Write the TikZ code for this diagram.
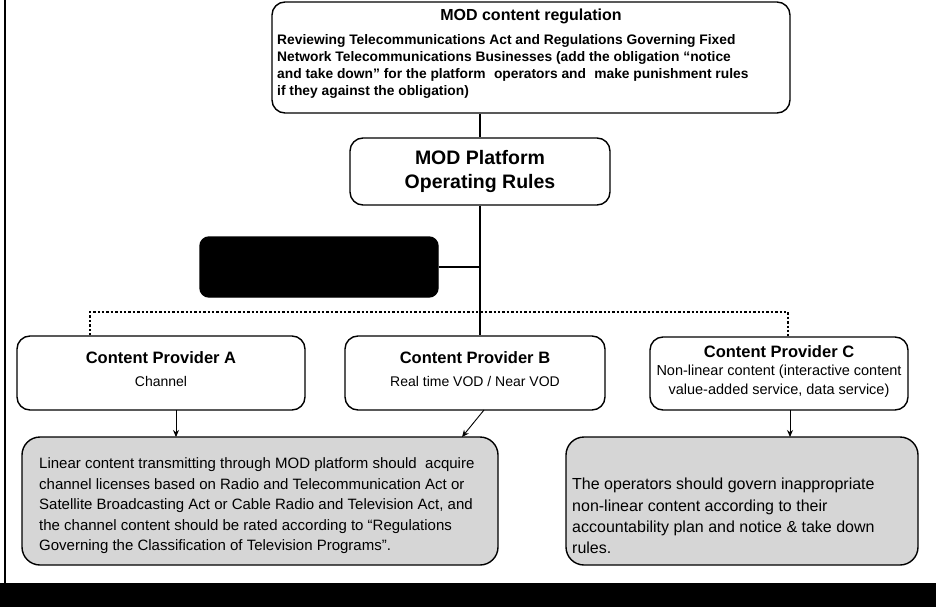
\documentclass[tikz,border=0pt]{standalone}
\usepackage{fontspec}
\setmainfont{Liberation Sans}
\usetikzlibrary{arrows.meta}
\begin{document}
\begin{tikzpicture}[x=1pt,y=-1pt,
  box/.style={draw=black,line width=1.4pt,rounded corners=13pt,fill=white,inner sep=0pt},
  graybox/.style={draw=black,line width=1.4pt,rounded corners=18pt,fill=black!16,inner sep=0pt},
  lbl/.style={inner sep=0pt,font=\bfseries},
  ptitle/.style={inner sep=0pt,font=\bfseries\fontsize{16.5}{19}\selectfont},
  psub/.style={inner sep=0pt,align=center,font=\fontsize{14}{19}\selectfont},
  body/.style={inner sep=0pt,align=left},
  conn/.style={line width=2.4pt},
  arr/.style={line width=0.9pt,-{Stealth[length=7pt,width=6pt]}}
]
\fill[white] (0,0) rectangle (936,607);
\useasboundingbox (0,0) rectangle (936,607);
% frame
\fill[black] (0,583) rectangle (936,607);
\draw[line width=2.5pt] (5,0) -- (5,583);

% top box
\node[box,minimum width=518pt,minimum height=111pt] (top) at (531,57.5) {};
\node[lbl,font=\bfseries\fontsize{16}{18}\selectfont] (toptitle) at (531,16) {MOD content regulation};
\node[body,anchor=north west,font=\bfseries\fontsize{13.8}{17}\selectfont] (topbody) at (277,34)
 {Reviewing Telecommunications Act and Regulations Governing Fixed\\
  Network Telecommunications Businesses (add the obligation “notice\\
  and take down" for the platform\hspace{0.6em}operators and\hspace{0.6em}make punishment rules\\
  if they against the obligation)};

% platform box
\node[box,minimum width=260pt,minimum height=67pt,align=center,
      font=\bfseries\fontsize{19.5}{24}\selectfont] (plat) at (480,171.5)
 {MOD Platform\\Operating Rules};

% black box
\node[box,fill=black,rounded corners=9pt,minimum width=238pt,minimum height=60pt] (blk) at (319,267) {};

% providers
\node[box,minimum width=288pt,minimum height=74pt] (pa) at (161,373) {};
\node[ptitle] (pat) at (161,358) {Content Provider A};
\node[psub] (pas) at (161,381) {Channel};

\node[box,minimum width=260pt,minimum height=74pt] (pb) at (475,373) {};
\node[ptitle] (pbt) at (475,358) {Content Provider B};
\node[psub] (pbs) at (475,381) {Real time VOD / Near VOD};

\node[box,minimum width=258pt,minimum height=73pt] (pc) at (779,373.5) {};
\node[ptitle] (pct) at (779,352) {Content Provider C};
\node[psub,font=\fontsize{14.5}{19}\selectfont] (pcs) at (779,381.5)
 {Non-linear content (interactive content\\value-added service, data service)};

% bottom boxes
\node[graybox,minimum width=476pt,minimum height=128pt] (bl) at (260,501) {};
\node[body,anchor=west,font=\fontsize{15}{20.5}\selectfont] (blt) at (39,506)
 {Linear content transmitting through MOD platform should\ \ acquire\\
  channel licenses based on Radio and Telecommunication Act or\\
  Satellite Broadcasting Act or Cable Radio and Television Act, and\\
  the channel content should be rated according to “Regulations\\
  Governing the Classification of Television Programs”.};

\node[graybox,minimum width=352pt,minimum height=128pt] (br) at (742,501) {};
\node[body,anchor=west,font=\fontsize{16}{21.3}\selectfont] (brt) at (572,516)
 {The operators should govern inappropriate\\
  non-linear content according to their\\
  accountability plan and notice \& take down\\
  rules.};

% connectors
\draw[conn] (top.south -| plat.north) -- (plat.north);
\draw[conn] (plat.south) -- (plat.south |- pb.north);
\draw[conn] (blk.east) -- (blk.east -| plat.south);
\coordinate (dl) at (90,312);
\coordinate (dr) at (788,312);
\draw[line width=2.4pt,dotted] (pa.north -| dl) -- (dl) -- (dr) -- (pc.north -| dr);

\coordinate (a1) at (176,410);
\coordinate (a2) at (176,437);
\draw[arr] (a1) -- (a2);
\coordinate (b1) at (484,410);
\coordinate (b2) at (462,437);
\draw[arr] (b1) -- (b2);
\coordinate (c1) at (790,410);
\coordinate (c2) at (790,437);
\draw[arr] (c1) -- (c2);
\end{tikzpicture}
\end{document}
